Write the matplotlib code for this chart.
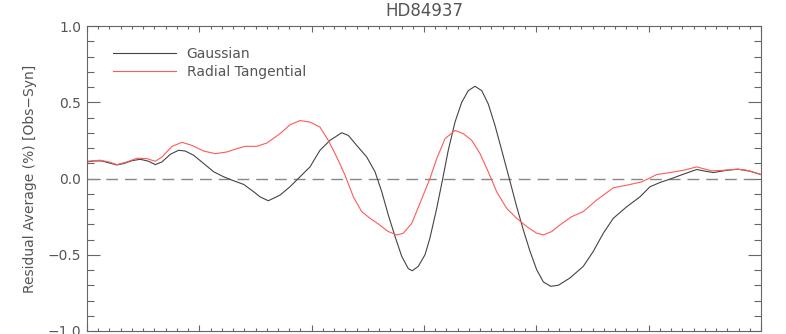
import matplotlib
matplotlib.use("Agg")
import matplotlib.pyplot as plt
from matplotlib.ticker import MultipleLocator, FuncFormatter

# (x in major-tick units, y in %)
gauss_x = [0.000, 0.060, 0.134, 0.207, 0.267, 0.327, 0.401, 0.474, 0.549, 0.608, 0.668,
           0.742, 0.816, 0.875, 0.950, 1.039, 1.128, 1.217, 1.306, 1.395, 1.484, 1.540,
           1.614, 1.718, 1.807, 1.896, 1.985, 2.074, 2.163, 2.267, 2.326, 2.401, 2.490,
           2.564, 2.624, 2.682, 2.742, 2.802, 2.860, 2.896, 2.949, 3.009, 3.053, 3.113,
           3.167, 3.216, 3.276, 3.336, 3.394, 3.454, 3.514, 3.572, 3.632, 3.692, 3.759,
           3.825, 3.884, 3.944, 4.003, 4.062, 4.128, 4.196, 4.300, 4.418, 4.507, 4.596,
           4.685, 4.805, 4.923, 5.012, 5.101, 5.190, 5.308, 5.428, 5.502, 5.576, 5.695,
           5.798, 5.902, 6.000]
gauss_y = [0.109, 0.115, 0.115, 0.100, 0.089, 0.098, 0.117, 0.126, 0.113, 0.091, 0.109,
           0.159, 0.185, 0.180, 0.152, 0.098, 0.044, 0.011, -0.015, -0.039, -0.087, -0.120,
           -0.146, -0.109, -0.054, 0.011, 0.076, 0.185, 0.250, 0.300, 0.283, 0.217, 0.141,
           0.044, -0.087, -0.239, -0.380, -0.511, -0.591, -0.605, -0.576, -0.500, -0.390,
           -0.196, 0.000, 0.185, 0.370, 0.500, 0.576, 0.605, 0.576, 0.489, 0.348, 0.185,
           0.000, -0.185, -0.337, -0.478, -0.598, -0.678, -0.707, -0.700, -0.652, -0.576,
           -0.478, -0.359, -0.261, -0.185, -0.120, -0.054, -0.026, -0.004, 0.028, 0.059,
           0.048, 0.039, 0.054, 0.061, 0.048, 0.026]

rt_x = [0.000, 0.118, 0.193, 0.267, 0.356, 0.445, 0.534, 0.608, 0.668, 0.757, 0.846,
        0.935, 1.039, 1.142, 1.246, 1.335, 1.409, 1.513, 1.602, 1.718, 1.807, 1.896,
        1.985, 2.074, 2.148, 2.223, 2.297, 2.371, 2.445, 2.519, 2.593, 2.682, 2.757,
        2.816, 2.891, 2.964, 3.053, 3.113, 3.187, 3.276, 3.350, 3.425, 3.499, 3.572,
        3.647, 3.736, 3.825, 3.914, 4.003, 4.062, 4.137, 4.211, 4.315, 4.418, 4.537,
        4.685, 4.805, 4.938, 5.012, 5.072, 5.175, 5.308, 5.428, 5.561, 5.665, 5.784,
        5.873, 6.000]
rt_y = [0.113, 0.120, 0.109, 0.091, 0.109, 0.133, 0.130, 0.113, 0.141, 0.211, 0.237,
        0.217, 0.180, 0.163, 0.174, 0.196, 0.211, 0.211, 0.233, 0.294, 0.352, 0.380,
        0.370, 0.337, 0.250, 0.141, 0.022, -0.120, -0.217, -0.261, -0.298, -0.348,
        -0.370, -0.359, -0.294, -0.163, 0.000, 0.130, 0.261, 0.315, 0.294, 0.250, 0.163,
        0.044, -0.087, -0.196, -0.261, -0.315, -0.359, -0.370, -0.348, -0.304, -0.250,
        -0.217, -0.141, -0.061, -0.044, -0.022, 0.004, 0.026, 0.037, 0.054, 0.076, 0.050,
        0.054, 0.061, 0.054, 0.026]

txt = "#555555"
plt.rcParams["font.family"] = ["DejaVu Sans"]

fig = plt.figure(figsize=(7.86, 3.34), dpi=100)
ax = fig.add_axes([87 / 786, 3 / 334, 674 / 786, 305 / 334])

ax.axhline(0, color="#888888", lw=1.0, dashes=(8.5, 5))
ax.plot(gauss_x, gauss_y, color="#444444", lw=0.8, label="Gaussian")
ax.plot(rt_x, rt_y, color="#ff5a5a", lw=0.8, label="Radial Tangential")

ax.set_xlim(0, 6)
ax.set_ylim(-1, 1)
ax.xaxis.set_major_locator(MultipleLocator(1))
ax.xaxis.set_minor_locator(MultipleLocator(0.1))
ax.yaxis.set_major_locator(MultipleLocator(0.5))
ax.yaxis.set_minor_locator(MultipleLocator(0.1))
ax.yaxis.set_major_formatter(FuncFormatter(lambda v, p: f"{v:.1f}".replace("-", "\u2212")))
ax.tick_params(axis="both", which="both", direction="in", top=True, right=True,
               color="#666666", width=0.8, labelcolor=txt, labelsize=10)
ax.tick_params(axis="x", labelbottom=False)
ax.tick_params(axis="y", which="major", length=9.5, pad=4)
ax.tick_params(axis="y", which="minor", length=4.7)
ax.tick_params(axis="x", which="major", length=4.3)
ax.tick_params(axis="x", which="minor", length=2.2)
for s in ax.spines.values():
    s.set_color("#666666")
    s.set_linewidth(0.8)

ax.set_title("HD84937", color=txt, fontsize=12, pad=7)
ax.set_ylabel("Residual Average (%) [Obs\u2212Syn]", color=txt, fontsize=10, labelpad=8)

leg = ax.legend(loc="upper left", bbox_to_anchor=(0.0386, 0.93), frameon=False,
                borderpad=0, borderaxespad=0, handlelength=4.5, handletextpad=0.8,
                labelspacing=0.25, fontsize=10)
for t in leg.get_texts():
    t.set_color(txt)

fig.savefig("out.png", dpi=100)
